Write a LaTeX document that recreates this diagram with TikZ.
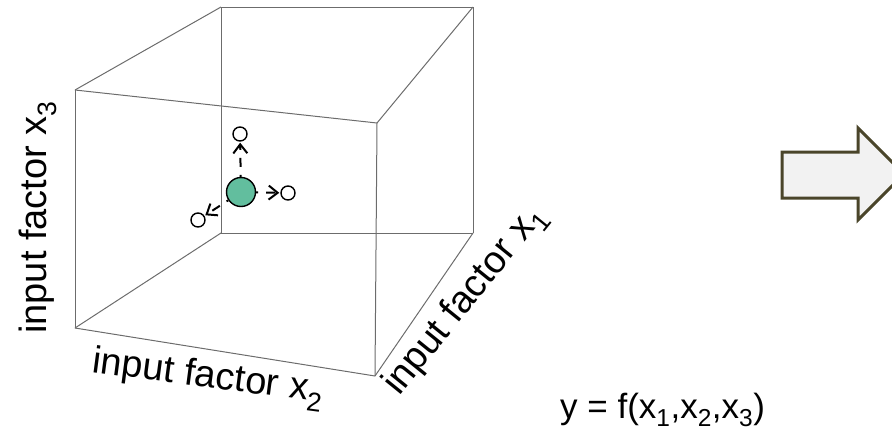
\documentclass[tikz,border=0pt]{standalone}
\usepackage{fontspec}
\setmainfont{Liberation Sans}
\usepackage{xcolor}
\usepackage{tikz}
\usetikzlibrary{arrows.meta, positioning, calc}
\definecolor{edgegray}{RGB}{108,108,108}
\definecolor{mint}{RGB}{98,190,158}
\definecolor{olive}{RGB}{74,69,42}
\definecolor{paper}{RGB}{242,242,242}
\tikzset{
  %% Cube edge
  cedge/.style={draw=edgegray, line width=1pt},
  %% Axis label
  axlab/.style={font=\fontsize{38}{44}\selectfont, inner sep=0pt, anchor=base west},
  eqlab/.style={font=\fontsize{35}{40}\selectfont, inner sep=0pt, anchor=base west},
  %% Design point and its neighbours
  basept/.style={circle, draw=black, fill=mint, line width=1.4pt,
                 minimum size=29pt, inner sep=0pt},
  nbpt/.style={circle, draw=black, fill=white, line width=1.4pt,
               minimum size=14pt, inner sep=0pt},
  %% Step arrow
  probe/.style={-{Straight Barb[length=9pt,width=14pt,line width=2pt]},
                line width=2pt, dash pattern=on 9pt off 8pt, dash phase=7pt,
                shorten >=1pt},
  %% Block arrow
  barrow/.style={draw=olive, fill=paper, line width=3pt, line join=miter},
}

\begin{document}
\begin{tikzpicture}[x=1pt, y=-1pt]
  \useasboundingbox (0,0) rectangle (892,432);
  % front face
  \coordinate (f1) at (75,90);
  \coordinate (f2) at (377,123);
  \coordinate (f3) at (375,376);
  \coordinate (f4) at (75,328);
  % back face
  \coordinate (b1) at (221,7);
  \coordinate (b2) at (473,7);
  \coordinate (b3) at (473,233);
  \coordinate (b4) at (221,233);
  \foreach \a/\b in {f1/f2, f2/f3, f3/f4, f4/f1,
                     b1/b2, b2/b3, b3/b4, b4/b1,
                     f1/b1, f2/b2, f3/b3, f4/b4}
    \draw[cedge] (\a) -- (\b);

  % design point with one-at-a-time steps
  \node[basept] (base) at (241,192) {};
  \node[nbpt] (up) at (240,134) {};
  \node[nbpt] (right) at (288,193) {};
  \node[nbpt] (diag) at (198,220) {};
  \draw[probe] (base) -- (up);
  \draw[probe] (base) -- (right);
  \draw[probe] (base) -- (diag);

  % axis labels
  \node[axlab, rotate=90] (labz) at (46,334) {input factor x\textsubscript{3}};
  \node[axlab, rotate=-7.5] (laby) at (91,372) {input factor x\textsubscript{2}};
  \node[axlab, rotate=51] (labx) at (399,397) {input factor x\textsubscript{1}};
  \node[eqlab] (model) at (560,418) {y = f(x\textsubscript{1},x\textsubscript{2},x\textsubscript{3})};

  % block arrow
  \draw[barrow] (782,152) -- (858,152) -- (858,128) -- (904,174)
    -- (858,220) -- (858,198) -- (782,198) -- cycle;
\end{tikzpicture}
\end{document}
